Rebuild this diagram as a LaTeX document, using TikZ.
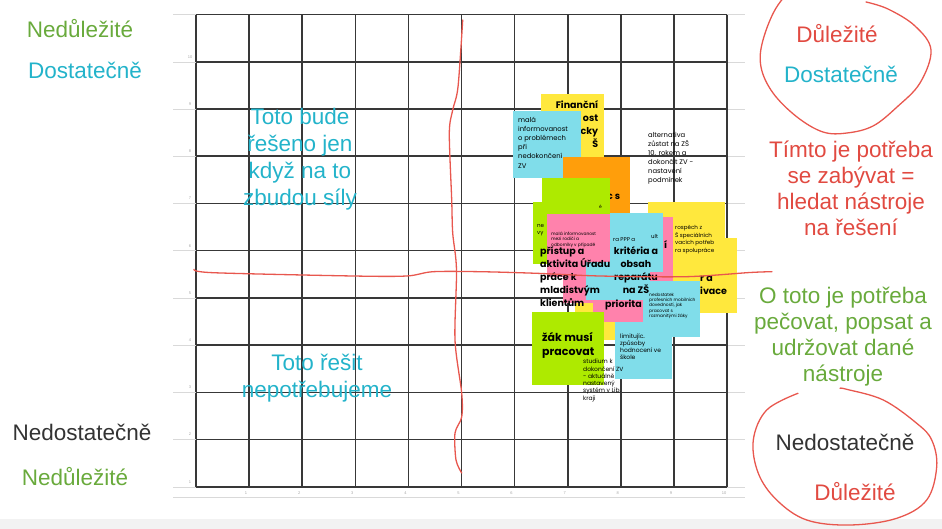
\documentclass[tikz,border=0pt]{standalone}
\usepackage{fontspec}
\setmainfont{Liberation Sans}
\newfontfamily\notefont{Poppins}
\usetikzlibrary{positioning}

\definecolor{gridc}{HTML}{383838}
\definecolor{pen}{HTML}{E8574E}
\definecolor{lblred}{HTML}{E14A41}
\definecolor{lblgreen}{HTML}{69AA3C}
\definecolor{lblcyan}{HTML}{23B3CA}
\definecolor{lbldark}{HTML}{333333}
\definecolor{ylw}{HTML}{FFE83D}
\definecolor{cyn}{HTML}{80DDEA}
\definecolor{org}{HTML}{FF9E0B}
\definecolor{grn}{HTML}{AEEA00}
\definecolor{pnk}{HTML}{FF82AC}

\begin{document}
\begin{tikzpicture}[x=1pt, y=-1pt,
    lbl/.style={font=\fontsize{22.5}{26}\selectfont, align=center, inner sep=0},
    note/.style={anchor=north west, inner sep=0, draw=none},
    small/.style={font=\notefont\fontsize{6.8}{9.1}\selectfont, align=left, anchor=north west, inner sep=0},
    tiny/.style={font=\notefont\fontsize{4.4}{5.2}\selectfont, align=left, anchor=north west, inner sep=0},
    big/.style={font=\notefont\bfseries\fontsize{9.5}{13.2}\selectfont, align=left, anchor=north west, inner sep=0},
    ticklbl/.style={font=\fontsize{4}{4}\selectfont, text=gray!70, inner sep=0},
    pen/.style={draw=pen, line width=1.3pt, line join=round, line cap=round}]
  \useasboundingbox (0,0) rectangle (942,529);
  \fill[gray!10] (0,519) rectangle (942,529);

  % grid
  \foreach \i in {0,...,10} {
    \draw[gray!30] (173,{14.7+47.2*\i}) -- (196,{14.7+47.2*\i});
    \draw[gray!30] (727,{14.7+47.2*\i}) -- (745,{14.7+47.2*\i});
    \draw[gridc, line width=1.6pt] ({196+53.1*\i},14.7) -- ({196+53.1*\i},486.7);
    \draw[gridc, line width=1.6pt] (196,{14.7+47.2*\i}) -- (727,{14.7+47.2*\i});
  }
  \draw[gray!30] (173,497) -- (745,497);
  \foreach \i in {1,...,10} {
    \node[ticklbl] at ({196+53.1*\i-3},493) {\i};
    \node[ticklbl] at (190,{486.7-47.2*(\i-1)-5}) {\i};
  }

  % sticky notes
  \node[note, fill=ylw, minimum width=63, minimum height=66] (fin) at (541,94) {};
  \node[big, align=right, anchor=north east] at ([shift={(-6,6)}]fin.north east) {Finanční\\ost\\cky\\Š};
  \node[note, fill=cyn, minimum width=68, minimum height=67] (mala) at (513,111) {};
  \node[small] at ([shift={(5,6)}]mala.north west) {malá\\informovanost\\o problémech\\při\\nedokončení\\ZV};
  \node[note, fill=org, minimum width=67, minimum height=67] (orange) at (563,157) {};
  \node[big] at (607,194) {c s};
  \node[note, fill=grn, minimum width=68, minimum height=68] (grnA) at (542,178) {};
  \node[tiny] at (594,205) {cké};
  \node[note, fill=grn, minimum width=66, minimum height=62] (grnB) at (533,202) {};
  \node[tiny, font=\notefont\fontsize{5.5}{7.5}\selectfont] at (537,224) {ne\\vy};
  \node[note, fill=ylw, minimum width=69, minimum height=75] (ylwB) at (668,238) {};
  \node[big] at (700,276) {r a\\ivace};
  \node[note, fill=ylw, minimum width=77, minimum height=68] (prospech) at (648,202) {};
  \node[small, font=\notefont\fontsize{5.6}{7.6}\selectfont] at (675,225) {rospěch z\\Š speciálních\\vacích potřeb\\ra spolupráce};
  \node[note, fill=pnk, minimum width=68, minimum height=66] (pinkB) at (605,217) {};
  \node[big] at (664,240) {í};
  \node[note, fill=pnk, minimum width=63, minimum height=63] (pinkA) at (547,214) {};
  \node[tiny] at ([shift={(4,18)}]pinkA.north west) {malá informovanost\\mezi rodiči a\\odborníky v případě};
  \node[note, fill=cyn, minimum width=53, minimum height=59] (kriteria) at (610,213) {};
  \node[tiny, font=\notefont\fontsize{5.5}{6}\selectfont] at (613,237) {ra PPP a};
  \node[tiny, font=\notefont\fontsize{5.5}{6}\selectfont] at (651,234) {ult};
  \node[note, fill=ylw, minimum width=65, minimum height=55] (ylwC) at (575,285) {};
  \node[note, fill=pnk, minimum width=62, minimum height=41] (pinkC) at (563,262) {};
  \node[note, fill=cyn, minimum width=64, minimum height=38] (cynE) at (586,262) {};
  \node[note, fill=pnk, minimum width=50, minimum height=22] (priorita) at (593,300) {};
  \node[big] at (605,300) {priorita};
  \node[note, fill=cyn, minimum width=57, minimum height=57] (limit) at (615,322) {};
  \node[small, font=\notefont\fontsize{6}{6.9}\selectfont] at ([shift={(5,12)}]limit.north west) {limitující\\způsoby\\hodnocení ve\\škole};
  \node[note, fill=cyn, minimum width=57, minimum height=56] (nedost) at (643,281) {};
  \node[tiny] at ([shift={(6,12)}]nedost.north west) {nedostatek\\profesních mobilních\\dovedností, jak\\pracovat s\\rozmanitými žáky};
  \node[note, fill=grn, minimum width=72, minimum height=73] (zak) at (532,312) {};
  \node[big, font=\notefont\bfseries\fontsize{11}{14.5}\selectfont] at ([shift={(10,20)}]zak.north west) {žák musí\\pracovat};

  % loose texts
  \node[small, font=\notefont\fontsize{6}{7.3}\selectfont] (studium) at (583,359) {studium k\\dokončení ZV\\- aktuálně\\nastavený\\systém v Lib.\\kraji};
  \node[small] (alternativa) at (648,132) {alternativa\\zůstat na ZŠ\\10. rokem a\\dokončit ZV -\\nastavení\\podmínek};
  \node[big] (pristup) at (540,246) {přístup a\\aktivita Úřadu\\práce k\\mladistvým\\klientům};
  \node[big, align=center, anchor=north] (obsah) at (636,246) {kritéria a\\obsah\\reparátu\\na ZŠ};

  % hand-drawn red lines
  \draw[pen] plot[smooth, tension=0.5] coordinates {(462.7,20) (458,87) (452.7,110) (449.3,133) (451.7,200) (452.7,233) (456.5,270) (455,340) (461.7,393) (461.7,417) (455,433) (456,460) (461.7,473)};
  \draw[pen] plot[smooth, tension=0.5] coordinates {(194,269.3) (213,272.7) (353,276) (406.7,276) (433,271.7) (480,271.7) (536.7,273.3) (600,276) (686,276.7) (750,272.5) (772,271.7)};
  \draw[pen] plot[smooth, tension=0.6] coordinates {(866,2) (888,9) (915,26) (931,50) (920,83) (897,107) (873,126) (847,133) (823,132) (797,117) (773,93) (761,67) (763,40) (778,5) (800,-12) (850,-14) (885,-4)};
  \draw[pen] plot[smooth, tension=0.6] coordinates {(798,393.3) (766.7,410) (753.3,440) (758.3,473.3) (776.7,500) (806.7,520) (850,525) (896.7,518.3) (926.7,500) (936.7,466.7) (931.7,440) (916.7,423.3) (883.3,400) (846.7,389.3) (840,388.3)};

  % labels
  \node[lbl, text=lblgreen] (ndTop) at (80,29) {Nedůležité};
  \node[lbl, text=lblcyan] (dsTop) at (85,70) {Dostatečně};
  \node[lbl, text=lbldark] (ndsBot) at (82,432) {Nedostatečně};
  \node[lbl, text=lblgreen] (ndBot) at (75,477) {Nedůležité};
  \node[lbl, text=lblred] (duTop) at (837,34) {Důležité};
  \node[lbl, text=lblcyan] (dsRight) at (841,74) {Dostatečně};
  \node[lbl, text=lblred] (hledat) at (851,188) {Tímto je potřeba\\se zabývat =\\hledat nástroje\\na řešení};
  \node[lbl, text=lblgreen] (pecovat) at (843,337) {O toto je potřeba\\pečovat, popsat a\\udržovat dané\\nástroje};
  \node[lbl, text=lbldark] (ndsRight) at (845,442) {Nedostatečně};
  \node[lbl, text=lblred] (duBot) at (855,492) {Důležité};
  \node[lbl, text=lblcyan, font=\fontsize{22.5}{27}\selectfont] (zbudou) at (300,159) {Toto bude\\řešeno jen\\když na to\\zbudou síly};
  \node[lbl, text=lblcyan, font=\fontsize{22.5}{27}\selectfont] (neresit) at (317,378) {Toto řešit\\nepotřebujeme};
\end{tikzpicture}
\end{document}
